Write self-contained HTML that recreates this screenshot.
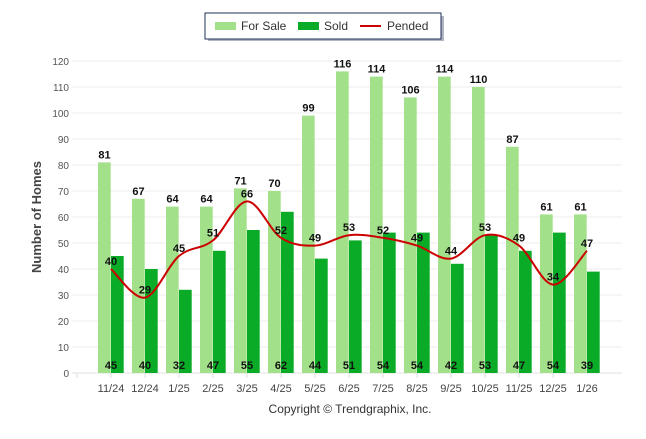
<!DOCTYPE html>
<html><head><meta charset="utf-8"><style>
body{margin:0;background:#fff;width:646px;height:434px;overflow:hidden;font-family:"Liberation Sans",sans-serif}
</style></head><body>
<svg id="c" width="646" height="434" xmlns="http://www.w3.org/2000/svg">
<g>
<rect x="206" y="14" width="236" height="25" fill="#1a2a50" opacity="0.35" transform="translate(2,2)"/>
<rect x="205" y="13" width="236" height="26" fill="#fff" stroke="#1f2f55" stroke-width="1"/>
<rect x="215" y="22" width="21" height="8" fill="#a2e08a"/>
<text x="241" y="30" font-size="12" fill="#333">For Sale</text>
<rect x="298" y="22" width="21" height="8" fill="#0aab26"/>
<text x="324" y="30" font-size="12" fill="#333">Sold</text>
<rect x="360" y="25" width="21" height="2" fill="#c00"/>
<text x="387" y="30" font-size="12" fill="#333">Pended</text>
</g>
<text transform="translate(41,217) rotate(-90)" text-anchor="middle" font-size="13" font-weight="bold" fill="#444">Number of Homes</text>
<text x="350" y="413" text-anchor="middle" font-size="12" fill="#333">Copyright © Trendgraphix, Inc.</text>
<g id="grid"></g><g id="bars"></g><g id="line"></g><g id="labels"></g>
</svg>
<script>
const categories=["11/24","12/24","1/25","2/25","3/25","4/25","5/25","6/25","7/25","8/25","9/25","10/25","11/25","12/25","1/26"];
const forSale=[81,67,64,64,71,70,99,116,114,106,114,110,87,61,61];
const sold=[45,40,32,47,55,62,44,51,54,54,42,53,47,54,39];
const pended=[40,29,45,51,66,52,49,53,52,49,44,53,49,34,47];
const yTicks=[0,10,20,30,40,50,60,70,80,90,100,110,120];
const NS="http://www.w3.org/2000/svg";
const y=v=>373-v*312/120;
const x=i=>111+i*34;
function el(t,a,p){const e=document.createElementNS(NS,t);for(const k in a)e.setAttribute(k,a[k]);document.getElementById(p).appendChild(e);return e;}
yTicks.forEach(t=>{
 const g=el("line",{x1:72,x2:622,y1:y(t),y2:y(t),stroke:t?"#ececec":"#e2e2e2","stroke-width":1},"grid");
 
 
 const l=el("text",{x:69,y:y(t)+4,"text-anchor":"end","font-size":10,fill:"#555"},"grid");
 l.textContent=t;
 
 
});
categories.forEach((c,i)=>{
 const tk=el("line",{x1:x(i)-34,x2:x(i)-34,y1:373,y2:378,stroke:"#ddd"},"grid");
 
 
 const l=el("text",{x:x(i),y:392,"text-anchor":"middle","font-size":11,fill:"#444"},"grid");
 l.textContent=c;
 
 
 const b1=el("rect",{x:x(i)-13,y:y(forSale[i]),width:12.7,height:373-y(forSale[i]),fill:"#a2e08a"},"bars");
 
 
 const b2=el("rect",{x:x(i),y:y(sold[i]),width:12.7,height:373-y(sold[i]),fill:"#0aab26"},"bars");
 
 
 const t1=el("text",{x:x(i)-6.5,y:y(forSale[i])-4,"text-anchor":"middle","font-size":11,"font-weight":"bold",fill:"#111"},"labels");
 t1.textContent=forSale[i];
 
 
 const t2=el("text",{x:x(i),y:369,"text-anchor":"middle","font-size":11,"font-weight":"bold",fill:"#111"},"labels");
 t2.textContent=sold[i];
 
 
 const t3=el("text",{x:x(i),y:y(pended[i])-4,"text-anchor":"middle","font-size":11,"font-weight":"bold",fill:"#111"},"labels");
 t3.textContent=pended[i];
 
 
});
const pts=pended.map((v,i)=>[x(i),y(v)]);
let d="M"+pts[0][0]+","+pts[0][1];
for(let i=0;i<pts.length-1;i++){
 const p0=pts[Math.max(0,i-1)],p1=pts[i],p2=pts[i+1],p3=pts[Math.min(pts.length-1,i+2)];
 const k=6;
 d+=` C${p1[0]+(p2[0]-p0[0])/k},${p1[1]+(p2[1]-p0[1])/k} ${p2[0]-(p3[0]-p1[0])/k},${p2[1]-(p3[1]-p1[1])/k} ${p2[0]},${p2[1]}`;
}
const ln=el("path",{d:d,fill:"none",stroke:"#c00","stroke-width":2},"line");


</script>
</body></html>
